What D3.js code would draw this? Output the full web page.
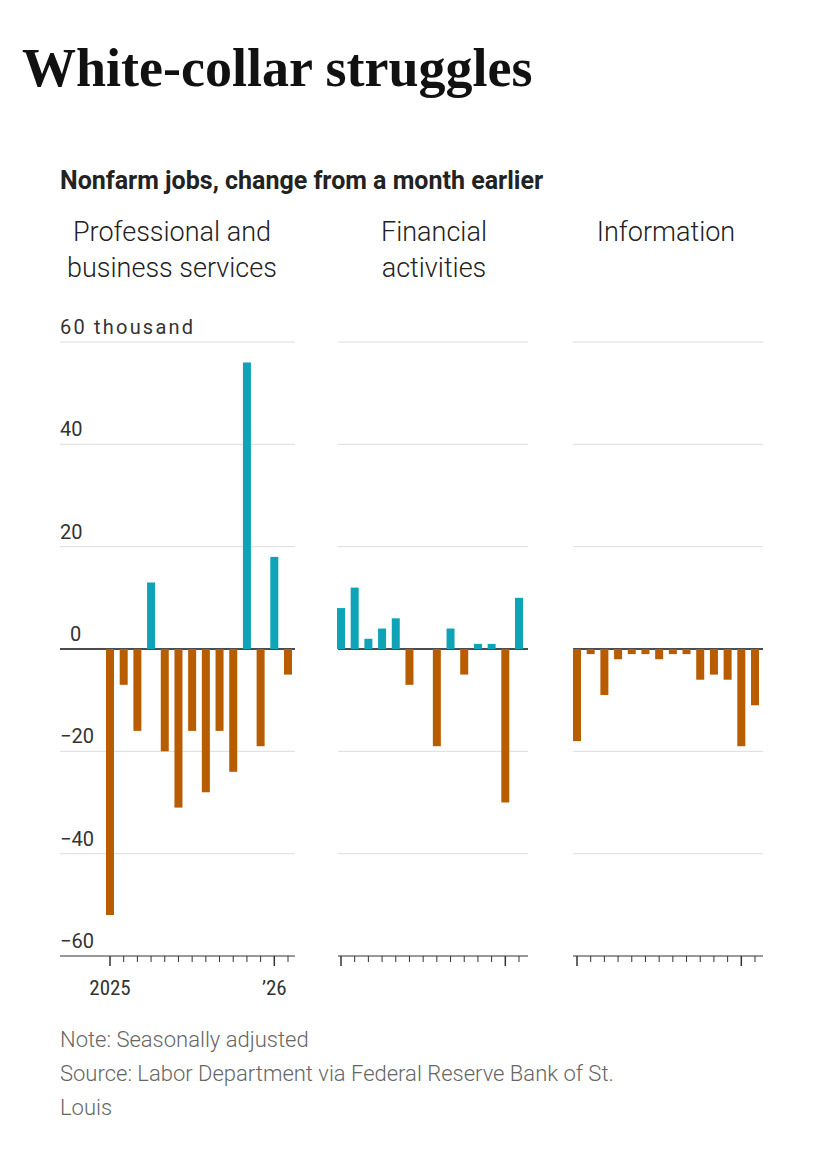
<!DOCTYPE html>
<html><head><meta charset="utf-8">
<script src="https://cdn.jsdelivr.net/npm/d3@7"></script>
<style>body{margin:0;background:#fff}</style>
</head><body><svg id="c" width="828" height="1165"></svg>
<script>
const months = ["Jan","Feb","Mar","Apr","May","Jun","Jul","Aug","Sep","Oct","Nov","Dec","Jan26","Feb26"];
const professional = [-52,-7,-16,13,-20,-31,-16,-28,-16,-24,56,-19,18,-5];
const financial = [8,12,2,4,6,-7,0,-19,4,-5,1,1,-30,10];
const information = [-18,-1,-9,-2,-1,-1,-2,-1,-1,-6,-5,-6,-19,-11];
const yTicks = [60,40,20,0,-20,-40,-60];
const panels = [
 {title:["Professional and","business services"], data:professional, x0:60, x1:295, b0:110, b1:288, tx:172},
 {title:["Financial","activities"], data:financial, x0:338, x1:528, b0:341, b1:519, tx:434},
 {title:["Information"], data:information, x0:573, x1:763, b0:577, b1:755, tx:666}
];
const svg = d3.select("#c");
const orange="#b85c00", teal="#0fa3b8";
svg.append("text").attr("x",22).attr("y",86).attr("font-family","Liberation Serif").attr("font-weight","bold").attr("font-size",54).attr("fill","#111").text("White-collar struggles");
svg.append("text").attr("x",60).attr("y",189).attr("font-family","Roboto").attr("font-weight","bold").attr("font-size",25).attr("fill","#222").text("Nonfarm jobs, change from a month earlier");
const y = d3.scaleLinear().domain([-60,60]).range([956,342]);
panels.forEach((p,pi)=>{
  const g = svg.append("g");
  p.title.forEach((t,i)=>g.append("text").attr("x",p.tx).attr("y",241+i*36).attr("text-anchor","middle")
    .attr("font-family","Roboto").attr("font-weight",300).attr("font-size",27).attr("fill","#222").text(t));
  yTicks.forEach(v=>{
    g.append("line").attr("x1",p.x0).attr("x2",p.x1).attr("y1",y(v)).attr("y2",y(v))
      .attr("stroke", v===0?"#111":(v===-60?"#333":"#ddd")).attr("stroke-width", v===0?1.5:1);
  });
  const x = d3.scalePoint().domain(months).range([p.b0,p.b1]);
  g.selectAll("rect").data(p.data).join("rect")
    .attr("x",(d,i)=>x(months[i])-4).attr("width",8)
    .attr("y",d=>y(Math.max(0,d))).attr("height",d=>Math.abs(y(d)-y(0)))
    .attr("fill",d=>d>=0?teal:orange);
  months.forEach((m,i)=>{
    const major = i===0||i===12;
    g.append("line").attr("x1",x(m)).attr("x2",x(m)).attr("y1",956).attr("y2",major?966:962)
      .attr("stroke","#333").attr("stroke-width",major?1.5:1);
  });
  if(pi===0){
    g.append("text").attr("x",x("Jan")).attr("y",995).attr("text-anchor","middle").attr("font-family","Roboto Condensed, Roboto").attr("font-size",21).attr("fill","#333").text("2025");
    g.append("text").attr("x",x("Jan26")).attr("y",995).attr("text-anchor","middle").attr("font-family","Roboto Condensed, Roboto").attr("font-size",21).attr("fill","#333").text("’26");
    yTicks.forEach(v=>{
      g.append("text").attr("x",v===0?70:60).attr("y",y(v)-8).attr("font-family","Roboto").attr("font-size",20)
       .attr("textLength", v===60?133:null).attr("fill","#333").text(v===60?"60 thousand":(v<0?"−"+(-v):v));
    });
  }
});
const notes=["Note: Seasonally adjusted","Source: Labor Department via Federal Reserve Bank of St.","Louis"];
notes.forEach((t,i)=>svg.append("text").attr("x",60).attr("y",1047+i*34).attr("font-family","Roboto").attr("font-weight",300).attr("font-size",22).attr("fill","#666").text(t));
</script></body></html>
